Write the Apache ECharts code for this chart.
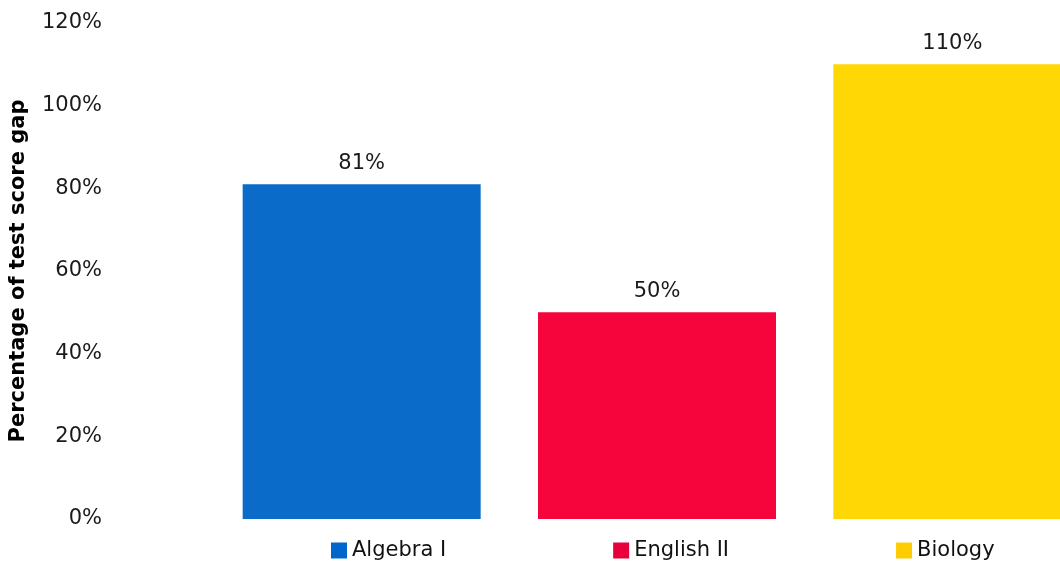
<!DOCTYPE html>
<html>
<head>
<meta charset="utf-8">
<script src="https://cdn.jsdelivr.net/npm/echarts@6/dist/echarts.min.js"></script>
<style>
    html, body { margin: 0; padding: 0; background: #fff; overflow: hidden; }
    /* the original chart runs past the right edge of the window */
    #main { width: 1100px; height: 562px; }
</style>
</head>
<body>
<div id="main"></div>
<script>
    // data
    const subjects = ['Algebra I', 'English II', 'Biology'];
    const gapPercent = [81, 50, 110];
    const yTicks = [0, 20, 40, 60, 80, 100, 120];

    const barColors = ['#0a6bc9', '#f5053c', '#ffd705'];
    const legendColors = ['#0066cc', '#e8003a', '#ffcc00'];

    const chart = echarts.init(document.getElementById('main'));

    // one series per subject so the legend can show each one
    const series = subjects.map(function (name, i) {
        return {
            name: name,
            type: 'bar',
            stack: 'all',
            barWidth: 238,
            data: subjects.map(function (s, j) { return j === i ? gapPercent[i] : '-'; }),
            itemStyle: { color: barColors[i] },
            label: {
                show: true,
                position: 'top',
                distance: 10,
                formatter: '{c}%',
                fontFamily: 'DejaVu Sans',
                fontSize: 21,
                color: '#1a1a1a'
            }
        };
    });

    chart.setOption({
        animation: false,
        textStyle: { fontFamily: 'DejaVu Sans' },
        grid: {
            left: 213,
            right: 0,
            top: 23,
            bottom: 43
        },
        legend: {
            bottom: -4,
            left: 326,
            itemWidth: 16,
            itemHeight: 16,
            itemGap: 167,
            icon: 'rect',
            data: subjects.map(function (name, i) {
                return { name: name, itemStyle: { color: legendColors[i] } };
            }),
            textStyle: {
                fontFamily: 'DejaVu Sans',
                fontSize: 21,
                color: '#111'
            }
        },
        xAxis: {
            type: 'category',
            data: subjects,
            axisLine: { show: false },
            axisTick: { show: false },
            axisLabel: { show: false }
        },
        yAxis: {
            type: 'value',
            min: yTicks[0],
            max: yTicks[yTicks.length - 1],
            interval: 20,
            name: 'Percentage of test score gap',
            nameLocation: 'middle',
            nameGap: 185,
            nameTextStyle: {
                fontFamily: 'DejaVu Sans',
                fontWeight: 'bold',
                fontSize: 21,
                color: '#000'
            },
            axisLine: { show: false },
            axisTick: { show: false },
            splitLine: { show: false },
            axisLabel: {
                margin: 112,
                formatter: '{value}%',
                fontFamily: 'DejaVu Sans',
                fontSize: 21,
                color: '#1a1a1a'
            }
        },
        series: series
    });
</script>
</body>
</html>
